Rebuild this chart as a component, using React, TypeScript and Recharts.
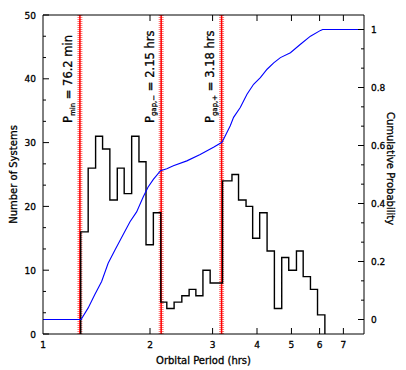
import React from 'react';
import { ComposedChart, Line, XAxis, YAxis, ReferenceLine } from 'recharts';

// ---- data ----
const periodTicks = [1, 2, 3, 4, 5, 6, 7];
const topPeriodTicks = [2, 3, 4, 5, 6, 7];
const countMajor = [0, 10, 20, 30, 40, 50];
const countMinor = [3.33, 6.67, 13.33, 16.67, 23.33, 26.67, 33.33, 36.67, 43.33, 46.67];
const probMajor = [0, 0.2, 0.4, 0.6, 0.8, 1];
const probMinor = [0.0667, 0.1333, 0.2667, 0.3333, 0.4667, 0.5333, 0.6667, 0.7333, 0.8667, 0.9333];

// histogram bin edges (hrs) and counts
const histEdges = [
  1.277, 1.34, 1.406, 1.471, 1.542, 1.618, 1.692, 1.776, 1.862, 1.949, 2.044,
  2.145, 2.23, 2.338, 2.458, 2.577, 2.692, 2.818, 2.953,
  3.2, 3.401, 3.549, 3.726, 3.889, 4.07, 4.27, 4.477, 4.695, 4.913, 5.165, 5.395, 5.655, 5.92,
  6.209,
];
const histCounts = [
  16, 26, 31, 29, 21, 26, 22, 31, 27, 14, 19,
  5, 4, 5, 6, 7, 6, 10, 8,
  24, 25, 21, 20, 15, 19, 13, 4, 12, 10, 13, 9, 7, 3,
];

// cumulative distribution
const cdfPeriods = [
  1.0, 1.28, 1.34, 1.399, 1.462, 1.525, 1.594, 1.664, 1.757, 1.834, 1.915, 1.974, 2.044, 2.141,
  2.23, 2.327, 2.539, 2.768, 3.018, 3.188, 3.257, 3.364, 3.437, 3.589, 3.749, 3.913, 4.088,
  4.27, 4.457, 4.655, 4.967, 5.301, 5.655, 6.037, 6.12, 8.0,
];
const cdfValues = [
  0, 0, 0.04, 0.086, 0.131, 0.194, 0.24, 0.283, 0.337, 0.371, 0.423, 0.456, 0.483, 0.513,
  0.52, 0.53, 0.547, 0.569, 0.594, 0.611, 0.634, 0.668, 0.697, 0.731, 0.777, 0.811, 0.834,
  0.863, 0.885, 0.903, 0.92, 0.949, 0.977, 0.997, 1.0, 1.0,
];

const cutoffPeriods = [1.27, 2.15, 3.18];
const cutoffSubs = ['min', 'gap,\u2212', 'gap,+'];
const cutoffTexts = [' = 76.2 min', ' = 2.15 hrs', ' = 3.18 hrs'];

// ---- derived tables ----
const histData = [
  { p: histEdges[0], n: 0 },
  ...histEdges.map((p, i) => ({ p, n: i < histCounts.length ? histCounts[i] : 0 })),
];
const cdfData = cdfPeriods.map((p, i) => ({ p, c: cdfValues[i] }));
const bandData = cutoffPeriods.map((p) => [
  { p, v: 0 },
  { p, v: 50 },
]);

const FONT = 'DejaVu Sans, sans-serif';
const TXT = { fontFamily: FONT, fill: '#000', stroke: '#000', strokeWidth: 0.3 };

const BottomTick = (props: any) => {
  const { x, y, payload } = props;
  const v = payload.value;
  return (
    <g>
      {v !== 1 && <line x1={x} x2={x} y1={y} y2={y - 6} stroke="#000" strokeWidth={1} />}
      <text x={x} y={y + 14} textAnchor="middle" fontSize={9} {...TXT}>
        {v}
      </text>
    </g>
  );
};

const TopTick = (props: any) => {
  const { x, y } = props;
  return <line x1={x} x2={x} y1={y} y2={y + 6} stroke="#000" strokeWidth={1} />;
};

const LeftTick = (props: any) => {
  const { x, y, payload } = props;
  const v = payload.value;
  const major = countMajor.includes(v);
  return (
    <g>
      <line x1={x} x2={x + (major ? 6 : 3)} y1={y} y2={y} stroke="#000" strokeWidth={1} />
      {major && (
        <text x={x - 7} y={y + 3.5} textAnchor="end" fontSize={9} {...TXT}>
          {v}
        </text>
      )}
    </g>
  );
};

const RightTick = (props: any) => {
  const { x, y, payload } = props;
  const v = payload.value;
  const major = probMajor.some((m) => Math.abs(m - v) < 1e-6);
  return (
    <g>
      <line x1={x} x2={x - (major ? 6 : 3)} y1={y} y2={y} stroke="#000" strokeWidth={1} />
      {major && (
        <text x={x + 7} y={y + 3.5} textAnchor="start" fontSize={9} {...TXT}>
          {String(v)}
        </text>
      )}
    </g>
  );
};

const makeCutoffLabel = (i: number) => (props: any) => {
  const vb = props.viewBox || {};
  const x = vb.x - 7.5;
  const y = vb.y + 108;
  return (
    <text transform={`rotate(-90 ${x} ${y})`} x={x} y={y} fontSize={11.5} {...TXT}>
      P
      <tspan fontSize={7} dy={2.5}>
        {cutoffSubs[i]}
      </tspan>
      <tspan dy={-2.5}>{cutoffTexts[i]}</tspan>
    </text>
  );
};

export default function App() {
  return (
    <div style={{ position: 'absolute', left: 0, top: 0 }}>
      <ComposedChart
        width={406}
        height={370}
        margin={{ top: 0, right: 0, bottom: 0, left: 0 }}
        style={{ fontFamily: FONT }}
      >
        <XAxis
          xAxisId="bottom"
          type="number"
          dataKey="p"
          scale="log"
          domain={[1, 8]}
          ticks={periodTicks}
          interval={0}
          allowDataOverflow
          height={36}
          tickSize={0}
          tickMargin={0}
          tickLine={false}
          axisLine={{ stroke: '#000', strokeWidth: 1 }}
          tick={<BottomTick />}
          label={{
            content: (p: any) => {
              const vb = p.viewBox;
              return (
                <text x={vb.x + vb.width / 2} y={vb.y + 30} textAnchor="middle" fontSize={10} {...TXT}>
                  Orbital Period (hrs)
                </text>
              );
            },
          }}
        />
        <XAxis
          xAxisId="top"
          orientation="top"
          type="number"
          dataKey="p"
          scale="log"
          domain={[1, 8]}
          ticks={topPeriodTicks}
          interval={0}
          allowDataOverflow
          height={15}
          tickSize={0}
          tickMargin={0}
          tickLine={false}
          axisLine={{ stroke: '#000', strokeWidth: 1 }}
          tick={<TopTick />}
        />
        <YAxis
          yAxisId="left"
          type="number"
          domain={[0, 50]}
          ticks={[...countMajor, ...countMinor]}
          interval={0}
          allowDataOverflow
          width={43}
          tickSize={0}
          tickMargin={0}
          tickLine={false}
          axisLine={{ stroke: '#000', strokeWidth: 1 }}
          tick={<LeftTick />}
          label={{
            content: (p: any) => {
              const vb = p.viewBox;
              const cx = 16.5;
              const cy = vb.y + vb.height / 2;
              return (
                <text
                  transform={`rotate(-90 ${cx} ${cy})`}
                  x={cx}
                  y={cy}
                  textAnchor="middle"
                  fontSize={10}
                  {...TXT}
                >
                  Number of Systems
                </text>
              );
            },
          }}
        />
        <YAxis
          yAxisId="right"
          orientation="right"
          type="number"
          domain={[-0.05, 1.05]}
          ticks={[...probMajor, ...probMinor]}
          interval={0}
          allowDataOverflow
          width={42}
          tickSize={0}
          tickMargin={0}
          tickLine={false}
          axisLine={{ stroke: '#000', strokeWidth: 1 }}
          tick={<RightTick />}
          label={{
            content: (p: any) => {
              const vb = p.viewBox;
              const cx = 387;
              const cy = vb.y + vb.height / 2 - 6;
              return (
                <text
                  transform={`rotate(90 ${cx} ${cy})`}
                  x={cx}
                  y={cy}
                  textAnchor="middle"
                  fontSize={10}
                  {...TXT}
                >
                  Cumulative Probability
                </text>
              );
            },
          }}
        />

        {bandData.map((d, i) => (
          <Line
            key={`bw${i}`}
            data={d}
            xAxisId="bottom"
            yAxisId="left"
            dataKey="v"
            type="linear"
            stroke="#ff7a7a"
            strokeWidth={5}
            strokeDasharray="1 1"
            dot={false}
            activeDot={false}
            isAnimationActive={false}
          />
        ))}
        {bandData.map((d, i) => (
          <Line
            key={`bc${i}`}
            data={d}
            xAxisId="bottom"
            yAxisId="left"
            dataKey="v"
            type="linear"
            stroke="#ff0000"
            strokeWidth={1.5}
            dot={false}
            activeDot={false}
            isAnimationActive={false}
          />
        ))}

        <Line
          data={histData}
          xAxisId="bottom"
          yAxisId="left"
          dataKey="n"
          type="stepAfter"
          stroke="#000"
          strokeWidth={1.4}
          dot={false}
          activeDot={false}
          isAnimationActive={false}
        />
        <Line
          data={cdfData}
          xAxisId="bottom"
          yAxisId="right"
          dataKey="c"
          type="linear"
          stroke="#0000ff"
          strokeWidth={1.1}
          dot={false}
          activeDot={false}
          isAnimationActive={false}
        />

        {cutoffPeriods.map((p, i) => (
          <ReferenceLine
            key={`rl${i}`}
            x={p}
            xAxisId="bottom"
            yAxisId="left"
            stroke="none"
            label={makeCutoffLabel(i)}
          />
        ))}
      </ComposedChart>
    </div>
  );
}
